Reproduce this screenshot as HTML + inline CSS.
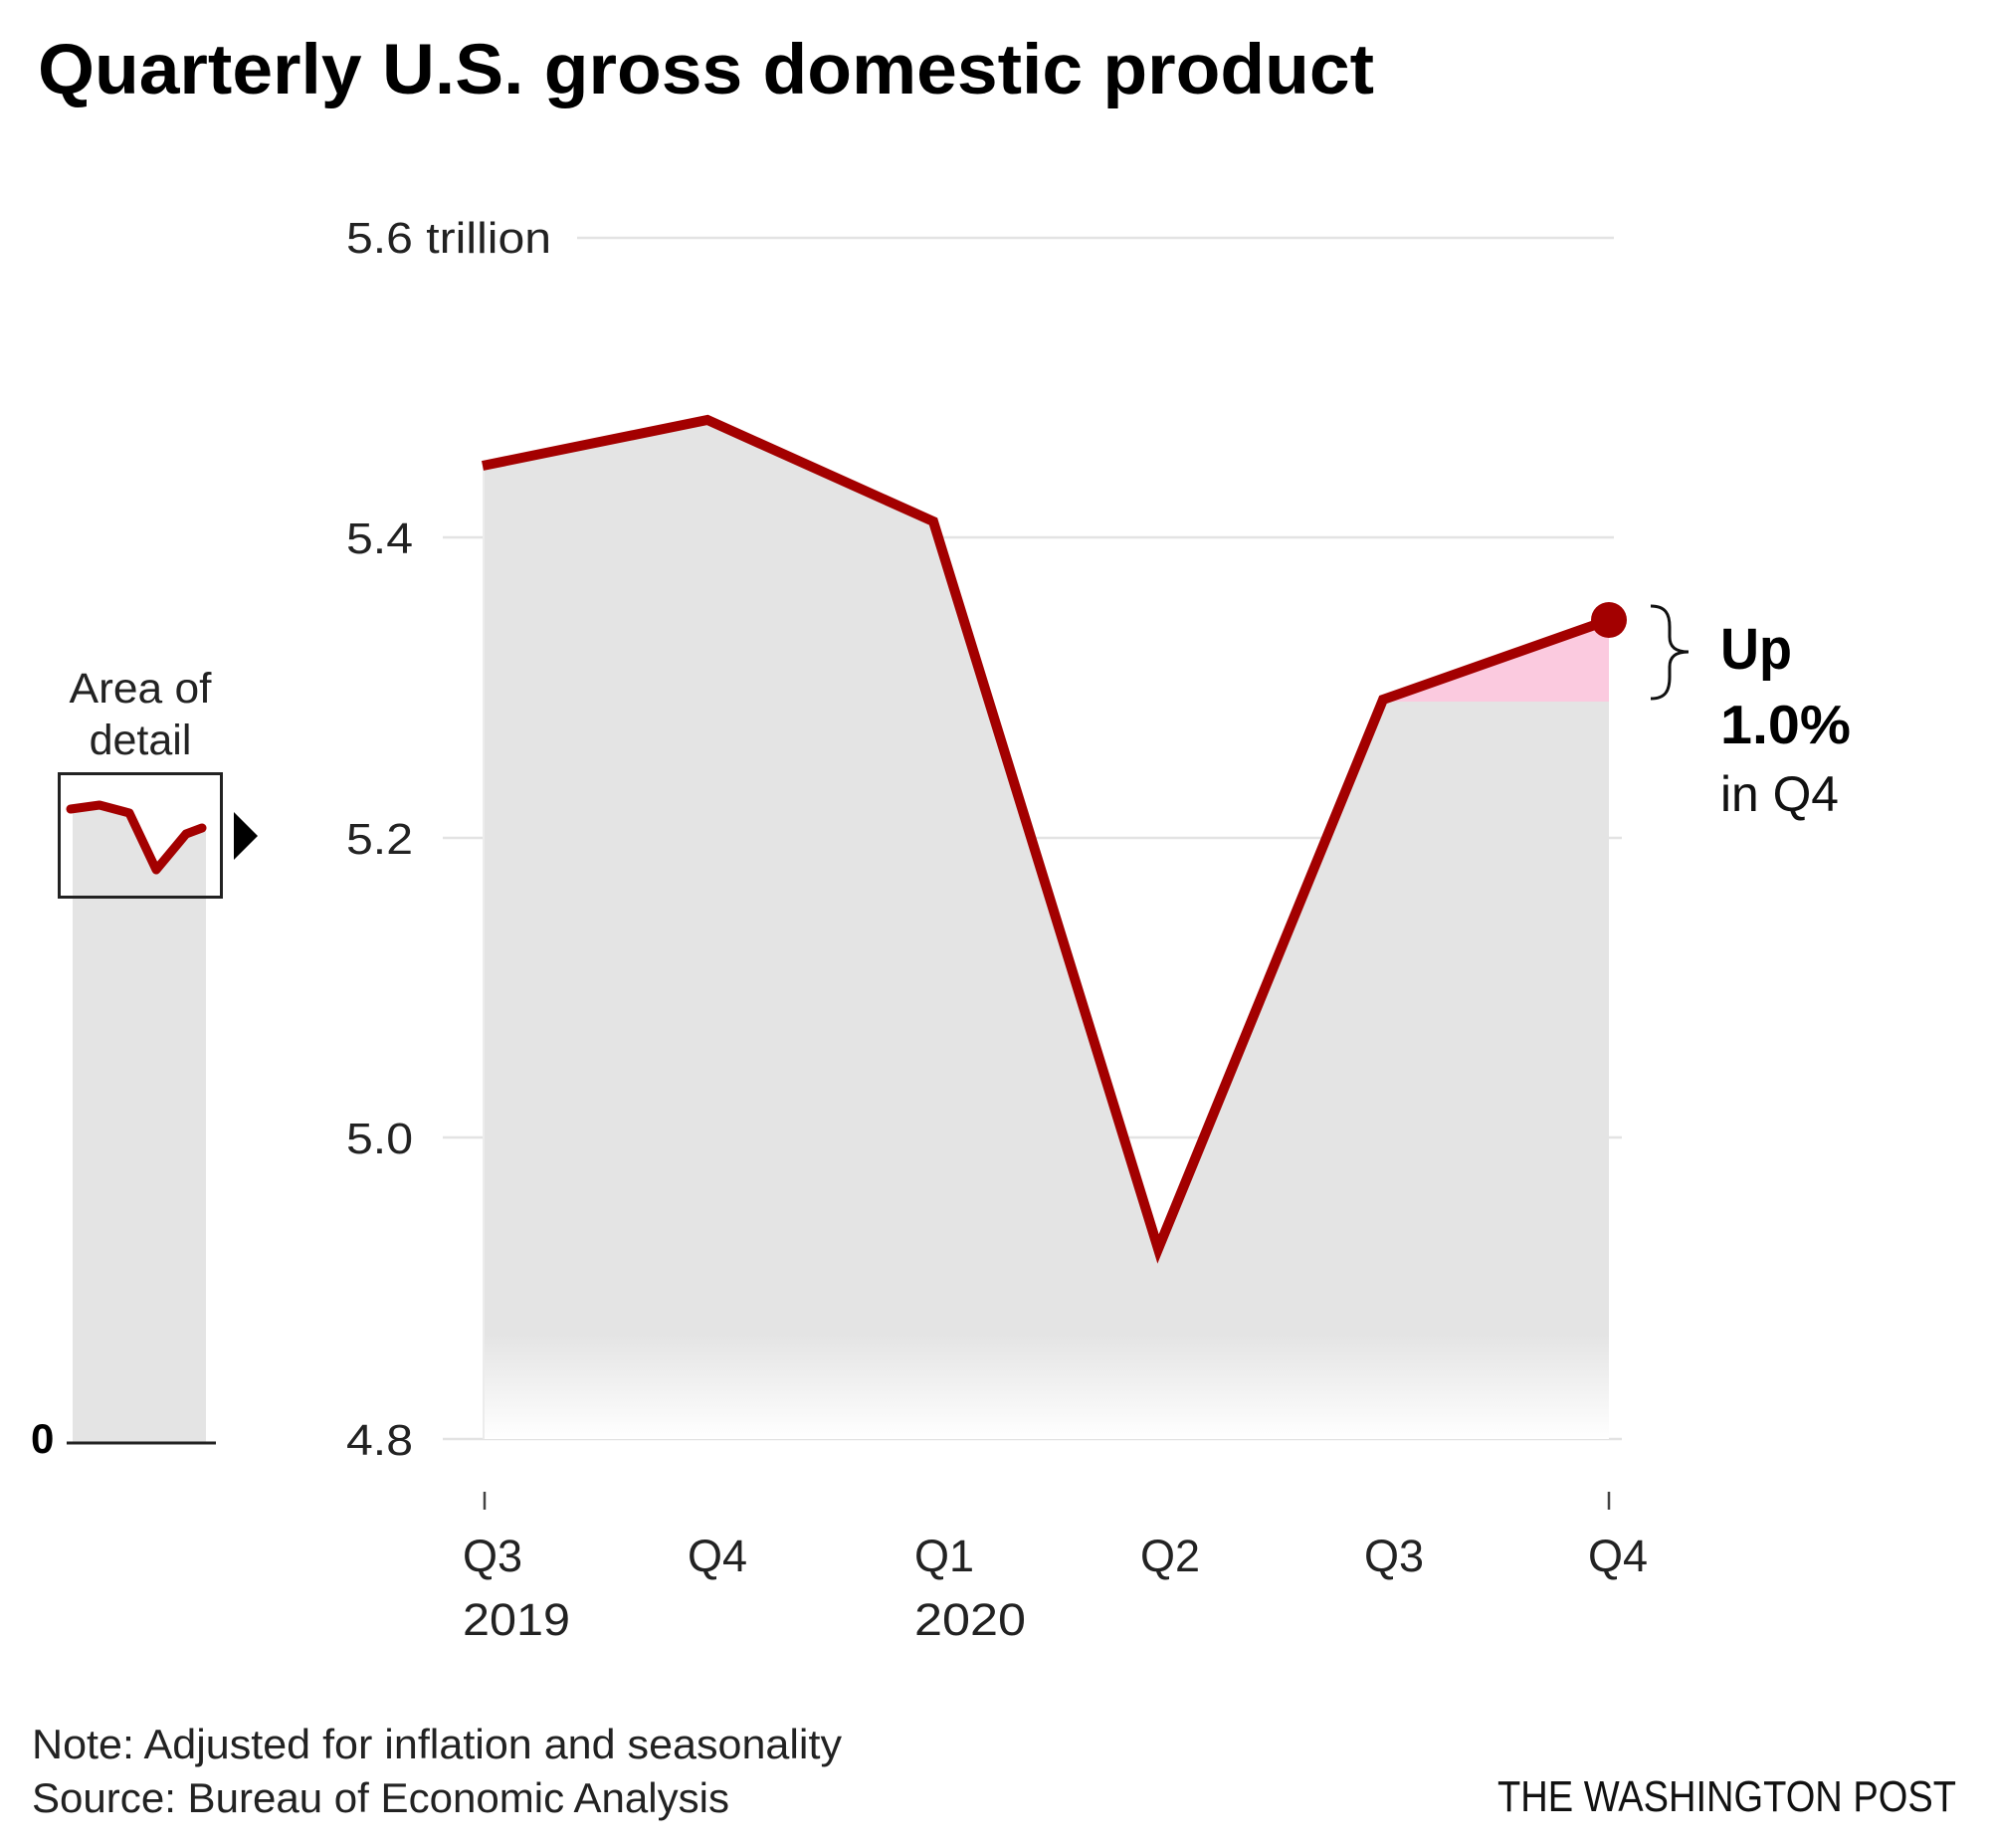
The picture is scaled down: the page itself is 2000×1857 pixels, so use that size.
<!DOCTYPE html>
<html>
<head>
<meta charset="utf-8">
<style>
  html,body{margin:0;padding:0;background:#fff;}
  svg{display:block;}
  text{font-family:"Liberation Sans",sans-serif;}
</style>
</head>
<body>
<svg width="2000" height="1857" viewBox="0 0 2000 1857" xmlns="http://www.w3.org/2000/svg">
  <defs>
    <linearGradient id="fadeArea" x1="0" y1="400" x2="0" y2="1446" gradientUnits="userSpaceOnUse">
      <stop offset="0" stop-color="#e4e4e4"/>
      <stop offset="0.9" stop-color="#e4e4e4"/>
      <stop offset="1" stop-color="#ffffff"/>
    </linearGradient>
  </defs>
  <rect width="2000" height="1857" fill="#fff"/>

  <!-- Title -->
  <text x="38" y="94" font-size="71" font-weight="bold" fill="#000" textLength="1343" lengthAdjust="spacingAndGlyphs">Quarterly U.S. gross domestic product</text>

  <!-- Gridlines -->
  <g stroke="#e3e3e3" stroke-width="2.5">
    <line x1="580" y1="239" x2="1622" y2="239"/>
    <line x1="445" y1="540" x2="1622" y2="540"/>
    <line x1="445" y1="842" x2="1630" y2="842"/>
    <line x1="445" y1="1143" x2="1630" y2="1143"/>
    <line x1="445" y1="1446" x2="1630" y2="1446"/>
  </g>

  <!-- Y labels -->
  <g font-size="44" fill="#222">
    <text x="348" y="254" textLength="206" lengthAdjust="spacingAndGlyphs">5.6 trillion</text>
    <text x="348" y="556" textLength="67" lengthAdjust="spacingAndGlyphs">5.4</text>
    <text x="348" y="858" textLength="67" lengthAdjust="spacingAndGlyphs">5.2</text>
    <text x="348" y="1159" textLength="67" lengthAdjust="spacingAndGlyphs">5.0</text>
    <text x="348" y="1462" textLength="67" lengthAdjust="spacingAndGlyphs">4.8</text>
  </g>

  <!-- Gray area -->
  <polygon fill="url(#fadeArea)" points="485,468 711,422 938,524 1164,1255 1390,703 1617,703 1617,1446 485,1446"/>
  <line x1="486" y1="470" x2="486" y2="1446" stroke="#ececec" stroke-width="2"/>
  <!-- Pink area -->
  <polygon fill="#fbcadf" points="1390,703 1617,623 1617,705 1390,705"/>

  <!-- Main line -->
  <polyline fill="none" stroke="#a30000" stroke-width="10" stroke-linejoin="miter" points="485,468 711,422 938,524 1164,1255 1390,703 1617,623"/>
  <circle cx="1617" cy="623" r="18" fill="#a30000"/>

  <!-- Annotation brace -->
  <path d="M1659,609 C1674,609 1678,617 1678,630 L1678,640 C1678,650 1684,655 1697,655 C1684,655 1678,660 1678,670 L1678,680 C1678,694 1674,702 1659,702" fill="none" stroke="#111" stroke-width="3"/>
  <text x="1729" y="672" font-size="58" font-weight="bold" fill="#000" textLength="72" lengthAdjust="spacingAndGlyphs">Up</text>
  <text x="1729" y="747" font-size="55" font-weight="bold" fill="#000" textLength="131" lengthAdjust="spacingAndGlyphs">1.0%</text>
  <text x="1729" y="815" font-size="50" fill="#111" textLength="119" lengthAdjust="spacingAndGlyphs">in Q4</text>

  <!-- X axis ticks -->
  <g stroke="#444" stroke-width="2.5">
    <line x1="487" y1="1499" x2="487" y2="1517"/>
    <line x1="1617" y1="1499" x2="1617" y2="1517"/>
  </g>
  <!-- X labels -->
  <g font-size="45" fill="#222">
    <text x="465" y="1579">Q3</text>
    <text x="465" y="1643" textLength="108" lengthAdjust="spacingAndGlyphs">2019</text>
    <text x="691" y="1579">Q4</text>
    <text x="919" y="1579">Q1</text>
    <text x="919" y="1643" textLength="112" lengthAdjust="spacingAndGlyphs">2020</text>
    <text x="1146" y="1579">Q2</text>
    <text x="1371" y="1579">Q3</text>
    <text x="1596" y="1579">Q4</text>
  </g>

  <!-- Inset: Area of detail -->
  <g font-size="43" fill="#222" text-anchor="middle">
    <text x="141" y="706" textLength="143" lengthAdjust="spacingAndGlyphs">Area of</text>
    <text x="141" y="758">detail</text>
  </g>
  <polygon fill="#e4e4e4" points="73,813 100,808 130,817 157,875 187,837 207,830 207,1450 73,1450"/>
  <polyline fill="none" stroke="#a30000" stroke-width="9" stroke-linejoin="round" stroke-linecap="round" points="71,813 100,809 130,817 157,874 187,838 203,832"/>
  <rect x="59.5" y="777.5" width="163" height="124" fill="none" stroke="#222" stroke-width="3"/>
  <polygon points="235,816 259,840 235,864" fill="#000"/>
  <line x1="67" y1="1450" x2="217" y2="1450" stroke="#222" stroke-width="3"/>
  <text x="31" y="1460" font-size="42" font-weight="bold" fill="#000">0</text>

  <!-- Footer -->
  <g font-size="42" fill="#222">
    <text x="32" y="1767" textLength="814" lengthAdjust="spacingAndGlyphs">Note: Adjusted for inflation and seasonality</text>
    <text x="32" y="1821" textLength="701" lengthAdjust="spacingAndGlyphs">Source: Bureau of Economic Analysis</text>
  </g>
  <text x="1505" y="1820" font-size="44" fill="#111" textLength="461" lengthAdjust="spacingAndGlyphs">THE WASHINGTON POST</text>
</svg>
</body>
</html>
